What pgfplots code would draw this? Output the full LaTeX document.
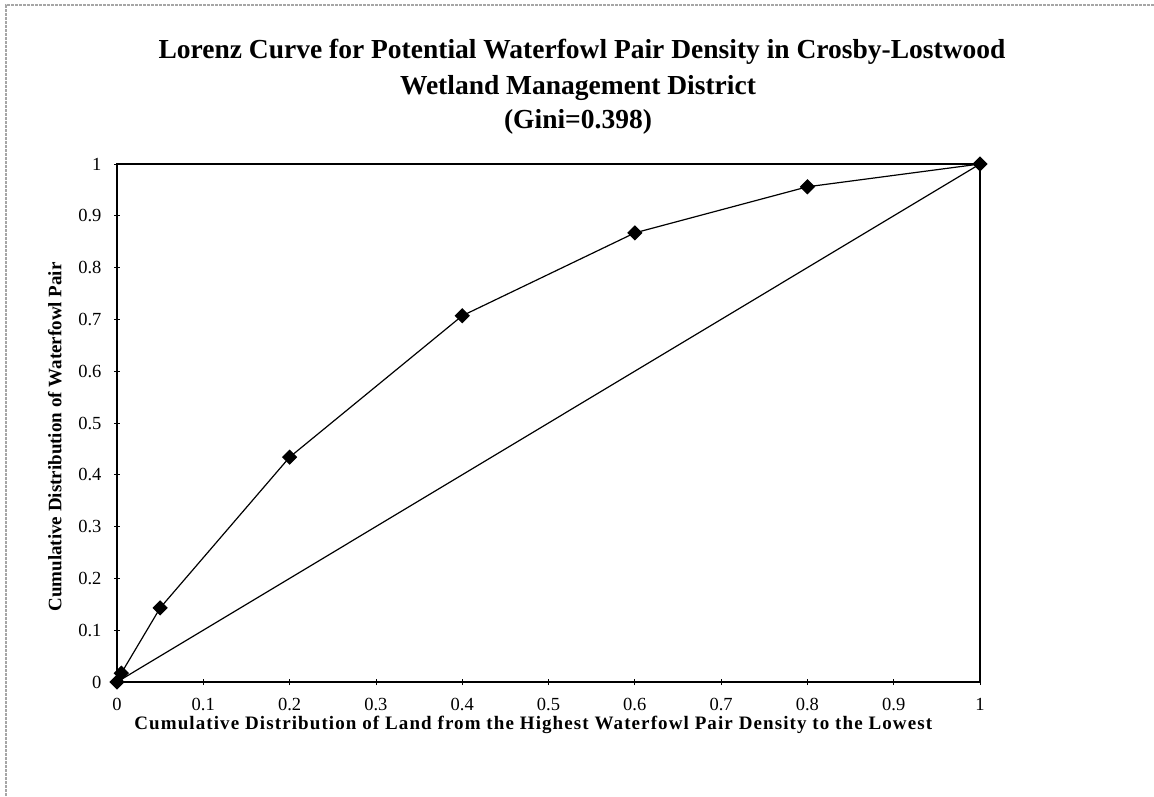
\documentclass[border=0pt]{standalone}
\usepackage{fontspec}
\setmainfont{Liberation Serif}
\usepackage{pgfplots}
\pgfplotsset{compat=1.18}
\begin{document}
\begin{tikzpicture}[x=1pt,y=1pt]
\path[use as bounding box] (-117,-114) rectangle (1037,682);
\draw[gray!70, dashed, line width=1.2pt, dash pattern=on 3pt off 1pt] (-111,-114) -- (-111,677) -- (1037,677);
\begin{axis}[
  at={(0,0)}, anchor=south west,
  scale only axis, width=863pt, height=518pt,
  xmin=0, xmax=1, ymin=0, ymax=1,
  xtick={0,0.1,...,1}, ytick={0,0.1,...,1},
  xticklabels={0,0.1,0.2,0.3,0.4,0.5,0.6,0.7,0.8,0.9,1},
  yticklabels={0,0.1,0.2,0.3,0.4,0.5,0.6,0.7,0.8,0.9,1},
  xtick pos=bottom, ytick pos=left,
  tick align=center, major tick length=6pt,
  tick style={black, line width=0.8pt},
  axis line style={black, line width=1.3pt},
  tick label style={font=\fontsize{18.5}{21}\selectfont},
  xticklabel style={yshift=-10pt},
  yticklabel style={xshift=-9pt},
  xlabel={\textbf{\addfontfeature{LetterSpace=5.8}Cumulative Distribution of Land from the Highest Waterfowl Pair Density to the Lowest}},
  ylabel={\textbf{Cumulative Distribution of Waterfowl Pair}},
  label style={font=\fontsize{19}{22}\selectfont},
  xlabel style={at={(axis description cs:0.483,-0.083)}, anchor=center},
  ylabel style={at={(axis description cs:-0.072,0.473)}, anchor=center},
  clip=false,
]
\addplot[black, line width=1.2pt, mark=square*, mark size=4.8pt, mark options={rotate=45, fill=black}]
  coordinates {(0,0) (0.005,0.017) (0.05,0.143) (0.2,0.434) (0.4,0.707) (0.6,0.867) (0.8,0.956) (1,1)};
\addplot[black, line width=1.2pt, mark=none] coordinates {(0,0) (1,1)};
\end{axis}
\node[font=\bfseries\fontsize{27.5}{30}\selectfont] at (465,630) {Lorenz Curve for Potential Waterfowl Pair Density in Crosby-Lostwood};
\node[font=\bfseries\fontsize{27.5}{30}\selectfont] at (461,594) {Wetland Management District};
\node[font=\bfseries\fontsize{27.5}{30}\selectfont] at (461,560) {(Gini=0.398)};
\end{tikzpicture}
\end{document}
